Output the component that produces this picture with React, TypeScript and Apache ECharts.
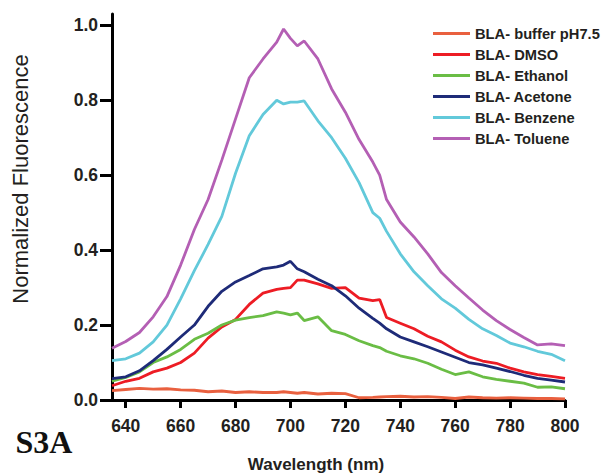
import React, { useEffect, useRef } from "react";
import * as echarts from "echarts";

const wavelengths = [635, 640, 645, 650, 655, 660, 665, 670, 675, 680, 685, 690, 695, 697.5, 700, 702.5, 705, 710, 715, 720, 725, 730, 732.5, 735, 740, 745, 750, 755, 760, 765, 770, 775, 780, 785, 790, 795, 800];

const buffer = [0.025, 0.028, 0.031, 0.029, 0.03, 0.027, 0.026, 0.022, 0.024, 0.02, 0.022, 0.02, 0.02, 0.022, 0.02, 0.018, 0.02, 0.016, 0.018, 0.017, 0.006, 0.007, 0.008, 0.009, 0.01, 0.008, 0.009, 0.007, 0.004, 0.008, 0.006, 0.005, 0.006, 0.005, 0.004, 0.004, 0.003];
const dmso = [0.038, 0.05, 0.058, 0.075, 0.085, 0.1, 0.125, 0.165, 0.195, 0.215, 0.255, 0.285, 0.295, 0.298, 0.3, 0.32, 0.32, 0.31, 0.298, 0.3, 0.272, 0.265, 0.268, 0.22, 0.205, 0.19, 0.17, 0.155, 0.133, 0.115, 0.104, 0.098, 0.085, 0.075, 0.068, 0.063, 0.058];
const ethanol = [0.05, 0.06, 0.075, 0.1, 0.115, 0.135, 0.162, 0.178, 0.2, 0.213, 0.22, 0.225, 0.235, 0.232, 0.227, 0.232, 0.212, 0.222, 0.185, 0.175, 0.158, 0.145, 0.14, 0.13, 0.118, 0.11, 0.098, 0.082, 0.068, 0.075, 0.062, 0.055, 0.05, 0.045, 0.034, 0.035, 0.03];
const acetone = [0.057, 0.062, 0.078, 0.105, 0.135, 0.168, 0.2, 0.25, 0.29, 0.315, 0.332, 0.35, 0.355, 0.36, 0.37, 0.35, 0.342, 0.322, 0.305, 0.278, 0.245, 0.218, 0.205, 0.19, 0.168, 0.155, 0.142, 0.128, 0.114, 0.1, 0.094, 0.085, 0.076, 0.066, 0.058, 0.053, 0.048];
const benzene = [0.105, 0.11, 0.125, 0.155, 0.2, 0.27, 0.345, 0.415, 0.49, 0.605, 0.705, 0.762, 0.8, 0.79, 0.795, 0.795, 0.798, 0.745, 0.7, 0.645, 0.58, 0.5, 0.485, 0.45, 0.39, 0.342, 0.305, 0.27, 0.245, 0.215, 0.19, 0.172, 0.152, 0.142, 0.13, 0.122, 0.105];
const toluene = [0.138, 0.156, 0.18, 0.222, 0.276, 0.36, 0.455, 0.535, 0.64, 0.75, 0.86, 0.91, 0.955, 0.99, 0.965, 0.945, 0.958, 0.91, 0.83, 0.768, 0.695, 0.635, 0.6, 0.535, 0.475, 0.435, 0.39, 0.34, 0.305, 0.272, 0.24, 0.212, 0.188, 0.167, 0.147, 0.15, 0.145];

const seriesNames = ["BLA- buffer pH7.5", "BLA- DMSO", "BLA- Ethanol", "BLA- Acetone", "BLA- Benzene", "BLA- Toluene"];
const seriesValues = [buffer, dmso, ethanol, acetone, benzene, toluene];
const seriesColors = ["#E9603F", "#ED1C24", "#6ABD45", "#1E2B78", "#62C9DA", "#B45FB4"];

const xTicks = [640, 660, 680, 700, 720, 740, 760, 780, 800];
const yTicks = [0, 0.2, 0.4, 0.6, 0.8, 1.0];

const FONT = "'Liberation Sans', Arial, Helvetica, sans-serif";
const TEXT = "#231F20";

export default function App() {
  const ref = useRef<HTMLDivElement>(null);
  useEffect(() => {
    if (!ref.current) return;
    const chart = echarts.init(ref.current, null, { renderer: "svg" });
    chart.setOption({
      animation: false,
      backgroundColor: "#ffffff",
      grid: { left: 112, right: 40, top: 14, bottom: 74, containLabel: false },
      legend: {
        orient: "vertical",
        left: 433,
        top: 23,
        padding: 0,
        itemWidth: 37,
        itemHeight: 3,
        itemGap: 0,
        icon: "rect",
        data: seriesNames,
        textStyle: { fontFamily: FONT, fontSize: 14.7, fontWeight: "bold", color: TEXT, lineHeight: 21, padding: [0, 0, 0, 0] },
      },
      xAxis: {
        type: "value",
        min: 635,
        max: 800,
        axisLine: { show: true, lineStyle: { color: "#000", width: 3 } },
        axisTick: { show: true, inside: false, length: 8, lineStyle: { color: "#000", width: 3 }, customValues: xTicks },
        axisLabel: { customValues: xTicks, fontFamily: FONT, fontSize: 17.5, fontWeight: "bold", color: TEXT, margin: 17 },
        splitLine: { show: false },
      },
      yAxis: {
        type: "value",
        min: 0,
        max: 1.03,
        axisLine: { show: true, lineStyle: { color: "#000", width: 3 } },
        axisTick: { show: true, inside: false, length: 12, lineStyle: { color: "#000", width: 3 }, customValues: yTicks },
        axisLabel: {
          customValues: yTicks,
          formatter: (v: number) => v.toFixed(1),
          fontFamily: FONT,
          fontSize: 17.5,
          fontWeight: "bold",
          color: TEXT,
          margin: 14,
        },
        splitLine: { show: false },
      },
      graphic: [
        {
          type: "text",
          x: 20.5,
          y: 179,
          rotation: Math.PI / 2,
          style: { text: "Normalized Fluorescence", fontFamily: FONT, fontSize: 22, fill: TEXT, align: "center", verticalAlign: "middle" },
        },
        {
          type: "text",
          x: 316,
          y: 464,
          style: { text: "Wavelength (nm)", fontFamily: FONT, fontSize: 17, fontWeight: "bold", fill: TEXT, align: "center", verticalAlign: "middle" },
        },
        {
          type: "text",
          x: 44,
          y: 442,
          style: { text: "S3A", fontFamily: "'Liberation Serif', 'Times New Roman', serif", fontSize: 32, fontWeight: "bold", fill: "#111", align: "center", verticalAlign: "middle" },
        },
      ],
      series: seriesNames.map((name, k) => ({
        name,
        type: "line",
        data: wavelengths.map((w, i) => [w, seriesValues[k][i]]),
        showSymbol: false,
        symbol: "none",
        color: seriesColors[k],
        lineStyle: { width: 2.8, color: seriesColors[k] },
      })),
    });
    return () => chart.dispose();
  }, []);
  return <div ref={ref} style={{ position: "fixed", left: 0, top: 0, width: 605, height: 474 }} />;
}
